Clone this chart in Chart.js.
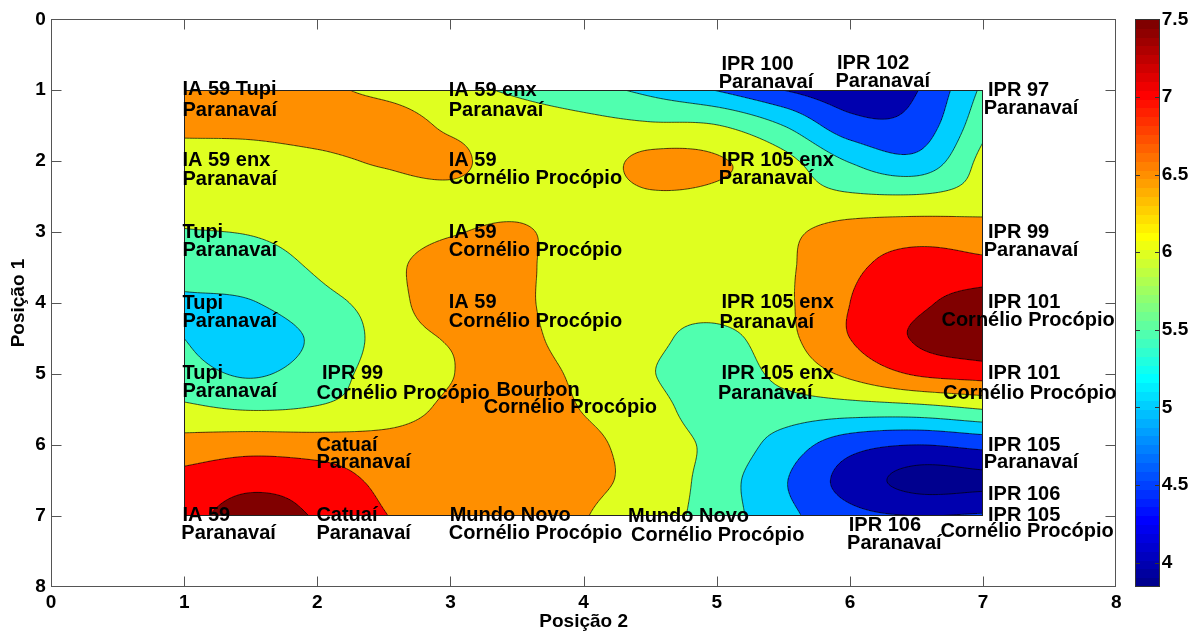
<!DOCTYPE html>
<html><head><meta charset="utf-8">
<script src="https://cdn.jsdelivr.net/npm/chart.js@4.4.1/dist/chart.umd.min.js"></script>
<style>html,body{margin:0;padding:0;background:#fff;}canvas{display:block;}</style>
</head><body>
<canvas id="c" width="1201" height="637"></canvas>
<script>
// ---------- data ----------
const gridX = [1, 1.5, 2, 2.5, 3, 3.5, 4, 4.5, 5, 5.5, 6, 6.5, 7];   // Posição 2
const gridY = [1, 1.5, 2, 2.5, 3, 3.5, 4, 4.5, 5, 5.5, 6, 6.5, 7];   // Posição 1
// zValues[row for gridY][column for gridX]
const zValues = [
  [6.75, 6.70, 6.60, 6.38, 6.13, 5.93, 5.68, 5.38, 4.98, 4.50, 4.20, 4.48, 5.60],
  [6.60, 6.62, 6.70, 6.75, 6.42, 6.25, 6.15, 6.07, 6.02, 5.50, 4.70, 4.70, 5.85],
  [6.30, 6.30, 6.40, 6.55, 6.62, 6.20, 6.25, 6.62, 6.55, 6.15, 5.47, 5.15, 6.15],
  [6.15, 6.20, 6.30, 6.30, 6.38, 6.35, 6.30, 6.45, 6.40, 6.20, 6.07, 6.05, 6.20],
  [5.98, 6.02, 6.15, 6.30, 6.47, 6.55, 6.30, 6.20, 6.25, 6.40, 6.70, 6.80, 6.75],
  [5.75, 5.80, 6.05, 6.35, 6.75, 6.65, 6.10, 6.15, 6.20, 6.42, 6.90, 7.20, 7.15],
  [5.42, 5.47, 5.85, 6.20, 6.90, 6.65, 6.10, 6.10, 6.20, 6.42, 7.00, 7.40, 7.75],
  [5.50, 5.20, 5.60, 6.15, 6.55, 6.70, 6.15, 6.10, 5.85, 6.35, 7.00, 7.55, 7.85],
  [5.70, 5.45, 5.75, 6.20, 6.48, 6.80, 6.35, 6.03, 5.70, 6.15, 6.60, 7.05, 7.20],
  [6.10, 5.98, 6.05, 6.25, 6.60, 6.80, 6.48, 6.20, 5.70, 5.75, 5.75, 5.80, 6.00],
  [6.70, 6.80, 6.75, 6.70, 6.75, 6.80, 6.60, 6.30, 5.85, 5.30, 4.70, 4.50, 4.65],
  [7.15, 7.35, 7.25, 6.90, 6.80, 6.75, 6.58, 6.35, 5.75, 5.05, 4.30, 3.85, 3.90],
  [7.30, 7.75, 7.45, 7.02, 6.80, 6.75, 6.52, 6.25, 5.75, 5.15, 4.65, 4.50, 4.55]
];
const contourLevels = [4, 4.5, 5, 5.5, 6, 6.5, 7, 7.5];
const colorMin = 3.845;
const colorMax = 7.5;
const axisTicks = [0, 1, 2, 3, 4, 5, 6, 7, 8];
const colorbarTicks = [4, 4.5, 5, 5.5, 6, 6.5, 7, 7.5];
const xTitle = 'Posição 2';
const yTitle = 'Posição 1';

const labelText = [
  'IA 59 Tupi', 'Paranavaí',
  'IA 59 enx', 'Paranavaí',
  'IPR 100', 'Paranavaí',
  'IPR 102', 'Paranavaí',
  'IPR 97', 'Paranavaí',
  'IA 59 enx', 'Paranavaí',
  'IA 59', 'Cornélio Procópio',
  'IPR 105 enx', 'Paranavaí',
  'Tupi', 'Paranavaí',
  'IA 59', 'Cornélio Procópio',
  'IPR 99', 'Paranavaí',
  'Tupi', 'Paranavaí',
  'IA 59', 'Cornélio Procópio',
  'IPR 105 enx', 'Paranavaí',
  'IPR 101', 'Cornélio Procópio',
  'Tupi', 'Paranavaí',
  'IPR 99', 'Cornélio Procópio',
  'Bourbon', 'Cornélio Procópio',
  'IPR 105 enx', 'Paranavaí',
  'IPR 101', 'Cornélio Procópio',
  'Catuaí', 'Paranavaí',
  'IPR 105', 'Paranavaí',
  'IPR 106',
  'IA 59', 'Paranavaí',
  'Catuaí', 'Paranavaí',
  'Mundo Novo', 'Cornélio Procópio',
  'Mundo Novo', 'Cornélio Procópio',
  'IPR 106', 'Paranavaí',
  'IPR 105', 'Cornélio Procópio'
];
const labelX = [
  0.987, 0.987,
  2.987, 2.987,
  5.035, 5.014,
  5.903, 5.891,
  7.037, 7.004,
  0.987, 0.987,
  2.987, 2.987,
  5.035, 5.014,
  0.987, 0.987,
  2.987, 2.987,
  7.037, 7.004,
  0.987, 0.987,
  2.987, 2.987,
  5.035, 5.020,
  7.037, 6.687,
  0.987, 0.987,
  2.035, 1.993,
  3.345, 3.249,
  5.035, 5.009,
  7.037, 6.699,
  1.993, 1.993,
  7.037, 7.004,
  7.037,
  0.987, 0.979,
  1.993, 1.993,
  2.994, 2.987,
  4.333, 4.356,
  5.991, 5.978,
  7.037, 6.679
];
const labelY = [
  0.993, 1.289,
  1.001, 1.289,
  0.637, 0.894,
  0.627, 0.880,
  0.997, 1.255,
  1.994, 2.256,
  1.988, 2.247,
  1.994, 2.242,
  2.999, 3.260,
  2.999, 3.260,
  2.999, 3.260,
  4.004, 4.264,
  3.993, 4.264,
  3.993, 4.268,
  3.993, 4.250,
  4.991, 5.251,
  4.991, 5.273,
  5.237, 5.471,
  4.991, 5.269,
  4.991, 5.273,
  6.002, 6.249,
  6.002, 6.252,
  6.703,
  6.989, 7.247,
  6.989, 7.247,
  6.989, 7.253,
  7.013, 7.281,
  7.134, 7.384,
  6.989, 7.224
];

// ---------- helpers ----------
const FONT_FAMILY = "'Liberation Sans', Arial, Helvetica, sans-serif";
const axisFont = {family: FONT_FAMILY, size: 19, weight: 'bold'};

function jet64(k) {
  const n = 16, u = [];
  for (let i = 1; i <= n; i++) u.push(i / n);
  for (let i = 0; i < n - 1; i++) u.push(1);
  for (let i = n; i >= 1; i--) u.push(i / n);
  const row = k + 1;
  const get = (i) => (i >= 1 && i <= u.length) ? u[i - 1] : 0;
  return [get(row - 24), get(row - 8), get(row + 8)].map(v => Math.round(v * 255));
}
function cmapIndex(v) {
  let k = Math.floor((v - colorMin) / (colorMax - colorMin) * 64);
  return Math.max(0, Math.min(63, k));
}
const bandColors = [jet64(cmapIndex(colorMin))].concat(contourLevels.map(l => jet64(cmapIndex(l))));
function bandOf(v) {
  let b = 0;
  for (let k = 0; k < contourLevels.length; k++) if (v >= contourLevels[k]) b = k + 1;
  return b;
}

const NX = gridX.length, NY = gridY.length;
function nodeVal(i, j) {
  if (i < 0) return 2 * nodeVal(0, j) - nodeVal(1, j);
  if (i >= NX) return 2 * nodeVal(NX - 1, j) - nodeVal(NX - 2, j);
  if (j < 0) return 2 * nodeVal(i, 0) - nodeVal(i, 1);
  if (j >= NY) return 2 * nodeVal(i, NY - 1) - nodeVal(i, NY - 2);
  return zValues[j][i];
}
const PAD = [];
for (let j = -1; j <= NY; j++) { const r = []; for (let i = -1; i <= NX; i++) r.push(nodeVal(i, j)); PAD.push(r); }
function cr(p0, p1, p2, p3, t) {
  return 0.5 * (2 * p1 + (-p0 + p2) * t + (2 * p0 - 5 * p1 + 4 * p2 - p3) * t * t + (-p0 + 3 * p1 - 3 * p2 + p3) * t * t * t);
}
function field(x, y) {
  const fx = (x - gridX[0]) / (gridX[1] - gridX[0]);
  const fy = (y - gridY[0]) / (gridY[1] - gridY[0]);
  let i = Math.floor(fx), j = Math.floor(fy);
  if (i < 0) i = 0; if (i > NX - 2) i = NX - 2;
  if (j < 0) j = 0; if (j > NY - 2) j = NY - 2;
  const tx = fx - i, ty = fy - j;
  const r = [];
  for (let m = 0; m < 4; m++) { const row = PAD[j + m]; r.push(cr(row[i], row[i + 1], row[i + 2], row[i + 3], tx)); }
  return cr(r[0], r[1], r[2], r[3], ty);
}

// ---------- plugins ----------
const contourPlugin = {
  id: 'contourFill',
  beforeDatasetsDraw(chart) {
    const ctx = chart.ctx, xs = chart.scales.x, ys = chart.scales.y;
    const xa = xs.getPixelForValue(gridX[0]), xb = xs.getPixelForValue(gridX[NX - 1]);
    const ya = ys.getPixelForValue(gridY[0]), yb = ys.getPixelForValue(gridY[NY - 1]);
    const left = Math.round(Math.min(xa, xb)), right = Math.round(Math.max(xa, xb));
    const top = Math.round(Math.min(ya, yb)), bottom = Math.round(Math.max(ya, yb));
    const w = right - left, h = bottom - top;
    const img = ctx.createImageData(w, h);
    const d = img.data;
    const xv = []; for (let px = 0; px < w; px++) xv.push(xs.getValueForPixel(left + px + 0.5));
    for (let py = 0; py < h; py++) {
      const y = ys.getValueForPixel(top + py + 0.5);
      for (let px = 0; px < w; px++) {
        const c = bandColors[bandOf(field(xv[px], y))];
        const o = (py * w + px) * 4;
        d[o] = c[0]; d[o + 1] = c[1]; d[o + 2] = c[2]; d[o + 3] = 255;
      }
    }
    ctx.putImageData(img, left, top);

    // contour lines (marching squares)
    const N = 300;
    const x0 = gridX[0], x1 = gridX[NX - 1], y0 = gridY[0], y1 = gridY[NY - 1];
    const hx = (x1 - x0) / N, hy = (y1 - y0) / N;
    const F = new Float64Array((N + 1) * (N + 1));
    for (let j = 0; j <= N; j++) for (let i = 0; i <= N; i++) F[j * (N + 1) + i] = field(x0 + i * hx, y0 + j * hy);
    const PX = [], PY = [];
    for (let i = 0; i <= N; i++) PX.push(xs.getPixelForValue(x0 + i * hx));
    for (let j = 0; j <= N; j++) PY.push(ys.getPixelForValue(y0 + j * hy));
    ctx.save();
    ctx.beginPath(); ctx.rect(left, top, w, h); ctx.clip();
    ctx.strokeStyle = 'rgba(0,0,0,0.85)';
    ctx.lineWidth = 0.8;
    for (const L of contourLevels) {
      ctx.beginPath();
      for (let j = 0; j < N; j++) {
        for (let i = 0; i < N; i++) {
          const v00 = F[j * (N + 1) + i], v10 = F[j * (N + 1) + i + 1];
          const v11 = F[(j + 1) * (N + 1) + i + 1], v01 = F[(j + 1) * (N + 1) + i];
          const s00 = v00 >= L, s10 = v10 >= L, s11 = v11 >= L, s01 = v01 >= L;
          if (s00 === s10 && s10 === s11 && s11 === s01) continue;
          const e = [null, null, null, null];
          if (s00 !== s10) { const t = (L - v00) / (v10 - v00); e[0] = [PX[i] + t * (PX[i + 1] - PX[i]), PY[j]]; }
          if (s10 !== s11) { const t = (L - v10) / (v11 - v10); e[1] = [PX[i + 1], PY[j] + t * (PY[j + 1] - PY[j])]; }
          if (s11 !== s01) { const t = (L - v11) / (v01 - v11); e[2] = [PX[i + 1] + t * (PX[i] - PX[i + 1]), PY[j + 1]]; }
          if (s01 !== s00) { const t = (L - v01) / (v00 - v01); e[3] = [PX[i], PY[j + 1] + t * (PY[j] - PY[j + 1])]; }
          const pts = e.filter(p => p);
          if (pts.length === 2) {
            ctx.moveTo(pts[0][0], pts[0][1]); ctx.lineTo(pts[1][0], pts[1][1]);
          } else if (pts.length === 4) {
            const c = (v00 + v10 + v11 + v01) / 4;
            if ((c >= L) === s00) {
              ctx.moveTo(e[0][0], e[0][1]); ctx.lineTo(e[1][0], e[1][1]);
              ctx.moveTo(e[2][0], e[2][1]); ctx.lineTo(e[3][0], e[3][1]);
            } else {
              ctx.moveTo(e[0][0], e[0][1]); ctx.lineTo(e[3][0], e[3][1]);
              ctx.moveTo(e[1][0], e[1][1]); ctx.lineTo(e[2][0], e[2][1]);
            }
          }
        }
      }
      ctx.stroke();
    }
    ctx.restore();
    // outline of the filled region
    ctx.save();
    ctx.strokeStyle = '#222';
    ctx.lineWidth = 1;
    ctx.strokeRect(left + 0.5, top + 0.5, w - 1, h - 1);
    ctx.restore();
  },
  afterDraw(chart) {
    const ctx = chart.ctx, ca = chart.chartArea;
    const xs = chart.scales.x, ys = chart.scales.y, cb = chart.scales.cb;
    ctx.save();
    // axes box and inward ticks
    ctx.strokeStyle = '#555';
    ctx.lineWidth = 1;
    const L = Math.round(ca.left) + 0.5, R = Math.round(ca.right) - 0.5;
    const T = Math.round(ca.top) + 0.5, B = Math.round(ca.bottom) - 0.5;
    ctx.strokeRect(L, T, R - L, B - T);
    ctx.beginPath();
    const tl = 10;
    axisTicks.forEach(v => {
      const px = Math.round(xs.getPixelForValue(v)) + 0.5;
      if (px > L + 1 && px < R - 1) { ctx.moveTo(px, B); ctx.lineTo(px, B - tl); ctx.moveTo(px, T); ctx.lineTo(px, T + tl); }
      const py = Math.round(ys.getPixelForValue(v)) + 0.5;
      if (py > T + 1 && py < B - 1) { ctx.moveTo(L, py); ctx.lineTo(L + tl, py); ctx.moveTo(R, py); ctx.lineTo(R - tl, py); }
    });
    ctx.stroke();

    // colorbar
    const cbL = Math.round(ca.right + 18.7), cbW = 25;
    const steps = 64, dv = (colorMax - colorMin) / steps;
    for (let k = 0; k < steps; k++) {
      const pa = cb.getPixelForValue(colorMin + k * dv), pb = cb.getPixelForValue(colorMin + (k + 1) * dv);
      const c = jet64(k);
      ctx.fillStyle = 'rgb(' + c[0] + ',' + c[1] + ',' + c[2] + ')';
      ctx.fillRect(cbL, Math.floor(pb), cbW, Math.ceil(pa) - Math.floor(pb));
    }
    const cT = Math.round(cb.getPixelForValue(colorMax)) + 0.5, cB = Math.round(cb.getPixelForValue(colorMin)) - 0.5;
    ctx.strokeStyle = '#333';
    ctx.strokeRect(cbL + 0.5, cT, cbW - 1, cB - cT);
    ctx.beginPath();
    colorbarTicks.forEach(v => {
      const py = Math.round(cb.getPixelForValue(v)) + 0.5;
      ctx.moveTo(cbL + 0.5, py); ctx.lineTo(cbL + 5, py);
      ctx.moveTo(cbL + cbW - 0.5, py); ctx.lineTo(cbL + cbW - 5, py);
    });
    ctx.stroke();

    // genotype labels
    ctx.fillStyle = '#000';
    ctx.font = 'bold 20px ' + FONT_FAMILY;
    ctx.textAlign = 'left';
    ctx.textBaseline = 'middle';
    for (let k = 0; k < labelText.length; k++) {
      ctx.fillText(labelText[k], xs.getPixelForValue(labelX[k]), ys.getPixelForValue(labelY[k]));
    }
    ctx.restore();
  }
};

const setTicks = (list) => (scale) => { scale.ticks = list.map(v => ({value: v})); };
const fixBox = (prop, size) => (s) => {
  s[prop] = size;
  s.paddingTop = 0; s.paddingBottom = 0; s.paddingLeft = 0; s.paddingRight = 0;
};

new Chart(document.getElementById('c'), {
  type: 'scatter',
  data: {datasets: [{data: [], pointRadius: 0}]},
  options: {
    responsive: false,
    animation: false,
    devicePixelRatio: 1,
    layout: {padding: {top: 19.3, left: 0, right: 0, bottom: 0}},
    plugins: {legend: {display: false}, tooltip: {enabled: false}},
    scales: {
      x: {
        type: 'linear', position: 'bottom', min: 0, max: 8,
        afterBuildTicks: setTicks(axisTicks),
        afterFit: fixBox('height', 50.3),
        grid: {display: false, drawTicks: false}, border: {display: false},
        ticks: {font: axisFont, color: '#000', padding: 5, maxRotation: 0, autoSkip: false, callback: (v) => String(v)},
        title: {display: true, text: xTitle, font: axisFont, color: '#000', padding: {top: 0, bottom: 3.6}}
      },
      y: {
        type: 'linear', position: 'left', min: 0, max: 8, reverse: true,
        afterBuildTicks: setTicks(axisTicks),
        afterFit: fixBox('width', 51),
        grid: {display: false, drawTicks: false}, border: {display: false},
        ticks: {font: axisFont, color: '#000', padding: 5.3, autoSkip: false, callback: (v) => String(v)},
        title: {display: true, text: yTitle, font: axisFont, color: '#000', padding: {top: 7, bottom: 0}}
      },
      cb: {
        type: 'linear', position: 'right', min: colorMin, max: colorMax,
        afterBuildTicks: setTicks(colorbarTicks),
        afterFit: fixBox('width', 84.7),
        grid: {display: false, drawTicks: false}, border: {display: false},
        ticks: {font: axisFont, color: '#000', padding: 45.5, autoSkip: false, callback: (v) => String(v)}
      }
    }
  },
  plugins: [contourPlugin]
});
</script>
</body></html>
